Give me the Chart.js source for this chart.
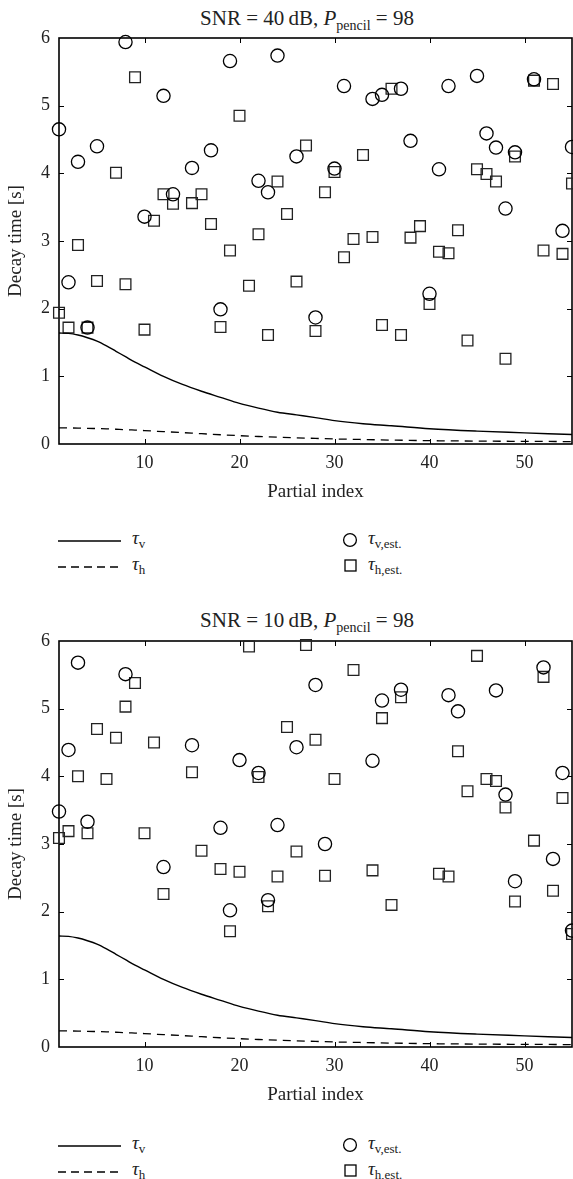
<!DOCTYPE html>
<html>
<head>
<meta charset="utf-8">
<script src="https://cdn.jsdelivr.net/npm/chart.js@4.4.1/dist/chart.umd.min.js"></script>
<style>
    body { margin: 0; width: 573px; height: 1179px; position: relative; background: #fff; overflow: hidden;
           font-family: "Liberation Serif", "DejaVu Serif", serif; color: #222; }
    .title { position: absolute; left: 107px; width: 400px; text-align: center; font-size: 21px; line-height: 22px; }
    .box { position: absolute; left: 0; width: 573px; height: 480px; }
    .leg { position: absolute; font-size: 19px; line-height: 20px; white-space: nowrap; }
    .leg sub { font-size: 13px; vertical-align: -4px; line-height: 0; }
    .leg i, .title i { font-style: italic; }
    svg { position: absolute; overflow: visible; }
</style>
</head>
<body>

<div class="title" style="top:7px">SNR = 40&thinsp;dB, <i>P</i><sub style="font-size:14px">pencil</sub> = 98</div>
<div class="box" style="top:28px"><canvas id="chart40"></canvas></div>

<div class="title" style="top:609px">SNR = 10&thinsp;dB, <i>P</i><sub style="font-size:14px">pencil</sub> = 98</div>
<div class="box" style="top:631px"><canvas id="chart10"></canvas></div>

<div id="legends"></div>

<script>
// partial index (x axis categories)
const partialIndex = [1, 2, 3, 4, 5, 6, 7, 8, 9, 10, 11, 12, 13, 14, 15, 16, 17, 18, 19, 20,
    21, 22, 23, 24, 25, 26, 27, 28, 29, 30, 31, 32, 33, 34, 35, 36, 37, 38, 39, 40,
    41, 42, 43, 44, 45, 46, 47, 48, 49, 50, 51, 52, 53, 54, 55];

// true decay times
const curveIndex = [1, 2, 3, 4, 5, 6, 7, 8, 9, 10, 12, 14, 16, 18, 20, 22, 24, 26, 28, 30,
    33, 36, 40, 45, 50, 55];
const tauV = [1.64, 1.635, 1.61, 1.57, 1.52, 1.45, 1.37, 1.29, 1.21, 1.14, 1.00, 0.88, 0.78, 0.69, 0.60,
    0.53, 0.47, 0.43, 0.39, 0.345, 0.30, 0.27, 0.225, 0.19, 0.165, 0.14];
const tauH = [0.238, 0.237, 0.235, 0.232, 0.228, 0.224, 0.218, 0.212, 0.205, 0.198, 0.183, 0.168, 0.152, 0.137, 0.123,
    0.111, 0.10, 0.091, 0.083, 0.075, 0.066, 0.058, 0.049, 0.043, 0.039, 0.036];

// estimates, SNR = 40 dB (null = not shown)
const tauVEst40 = [4.65, 2.39, 4.17, 1.72, 4.40, null, null, 5.94, null, 3.36,
    null, 5.145, 3.69, null, 4.08, null, 4.34, 1.99, 5.66, null,
    null, 3.89, 3.72, 5.74, null, 4.25, null, 1.87, null, 4.07,
    5.29, null, null, 5.10, 5.16, null, 5.25, 4.48, null, 2.22,
    4.06, 5.29, null, null, 5.44, 4.59, 4.38, 3.48, 4.31, null,
    5.39, null, null, 3.15, 4.39];
const tauHEst40 = [1.94, 1.72, 2.94, 1.72, 2.41, null, 4.01, 2.36, 5.42, 1.69,
    3.30, 3.69, 3.55, null, 3.56, 3.69, 3.25, 1.73, 2.86, 4.85,
    2.34, 3.10, 1.61, 3.88, 3.40, 2.40, 4.41, 1.67, 3.72, 4.02,
    2.76, 3.03, 4.27, 3.06, 1.76, 5.25, 1.61, 3.05, 3.22, 2.07,
    2.84, 2.82, 3.16, 1.53, 4.06, 3.99, 3.88, 1.26, 4.25, null,
    5.37, 2.86, 5.32, 2.81, 3.85];

// estimates, SNR = 10 dB
const tauVEst10 = [3.48, 4.39, 5.68, 3.33, null, null, null, 5.51, null, null,
    null, 2.66, null, null, 4.46, null, null, 3.24, 2.02, 4.24,
    null, 4.05, 2.17, 3.28, null, 4.43, null, 5.35, 3.00, null,
    null, null, null, 4.23, 5.12, null, 5.28, null, null, null,
    null, 5.20, 4.96, null, null, null, 5.27, 3.73, 2.45, null,
    null, 5.61, 2.78, 4.05, 1.72];
const tauHEst10 = [3.09, 3.19, 4.00, 3.16, 4.70, 3.96, 4.57, 5.03, 5.38, 3.16,
    4.50, 2.26, null, null, 4.06, 2.90, null, 2.63, 1.71, 2.59,
    5.92, 3.99, 2.08, 2.52, 4.73, 2.89, 5.94, 4.54, 2.53, 3.96,
    null, 5.57, null, 2.61, 4.86, 2.10, 5.17, null, null, null,
    2.56, 2.52, 4.37, 3.78, 5.78, 3.96, 3.93, 3.54, 2.15, null,
    3.05, 5.47, 2.31, 3.68, 1.67];

const xTicks = [10, 20, 30, 40, 50];
const yTicks = [0, 1, 2, 3, 4, 5, 6];

const fontFamily = '"Liberation Serif", "DejaVu Serif", serif';

function pts(xs, ys) {
    return xs.map((x, i) => ({ x: x, y: ys[i] })).filter(p => p.y !== null);
}

// box round the plot and inward tick marks
const frameTicks = {
    id: 'frameTicks',
    beforeDatasetsDraw(chart) {
        const { ctx, chartArea: a, scales: { x, y } } = chart;
        ctx.save();
        ctx.strokeStyle = '#000';
        ctx.lineWidth = 1.6;
        ctx.strokeRect(a.left, a.top, a.right - a.left, a.bottom - a.top);
        ctx.lineWidth = 1;
        ctx.beginPath();
        xTicks.forEach(v => {
            const px = Math.round(x.getPixelForValue(v)) + 0.5;
            ctx.moveTo(px, a.bottom); ctx.lineTo(px, a.bottom - 5);
            ctx.moveTo(px, a.top); ctx.lineTo(px, a.top + 5);
        });
        yTicks.slice(1, -1).forEach(v => {
            const py = Math.round(y.getPixelForValue(v)) + 0.5;
            ctx.moveTo(a.left, py); ctx.lineTo(a.left + 5, py);
            ctx.moveTo(a.right, py); ctx.lineTo(a.right - 5, py);
        });
        ctx.stroke();
        ctx.restore();
    }
};

function makeChart(id, circles, squares) {
    const ctx = document.getElementById(id).getContext('2d');
    return new Chart(ctx, {
        type: 'scatter',
        data: {
            datasets: [
                {
                    label: 'tau_v',
                    data: pts(curveIndex, tauV),
                    showLine: true,
                    cubicInterpolationMode: 'monotone',
                    borderColor: '#000',
                    borderWidth: 1.4,
                    pointRadius: 0
                },
                {
                    label: 'tau_h',
                    data: pts(curveIndex, tauH),
                    showLine: true,
                    cubicInterpolationMode: 'monotone',
                    borderColor: '#000',
                    borderWidth: 1.3,
                    borderDash: [8, 6],
                    pointRadius: 0
                },
                {
                    label: 'tau_v,est.',
                    data: pts(partialIndex, circles),
                    pointStyle: 'circle',
                    pointRadius: 6.6,
                    pointBorderWidth: 1.3,
                    borderColor: '#000',
                    backgroundColor: 'rgba(0,0,0,0)',
                    clip: false
                },
                {
                    label: 'tau_h,est.',
                    data: pts(partialIndex, squares),
                    pointStyle: 'rect',
                    pointRadius: 7.6,
                    pointBorderWidth: 1.3,
                    borderColor: '#222',
                    backgroundColor: 'rgba(0,0,0,0)',
                    clip: false
                }
            ]
        },
        options: {
            responsive: true,
            maintainAspectRatio: false,
            animation: false,
            layout: { autoPadding: false, padding: { top: 10, right: 1, left: 0, bottom: 0 } },
            plugins: { legend: { display: false }, tooltip: { enabled: false } },
            scales: {
                x: {
                    type: 'linear',
                    min: 1,
                    max: 55,
                    afterBuildTicks: s => { s.ticks = xTicks.map(v => ({ value: v })); },
                    afterFit: s => { s.height = 64; s.paddingLeft = 0; s.paddingRight = 0; },
                    grid: { display: false, drawTicks: false },
                    border: { display: false },
                    ticks: { color: '#222', padding: 8, font: { family: fontFamily, size: 18 } },
                    title: {
                        display: true, text: 'Partial index', color: '#222',
                        font: { family: fontFamily, size: 19 }, padding: { top: 0, bottom: 5 }
                    }
                },
                y: {
                    min: 0,
                    max: 6,
                    afterBuildTicks: s => { s.ticks = yTicks.map(v => ({ value: v })); },
                    afterFit: s => { s.width = 59; s.paddingTop = 0; s.paddingBottom = 0; },
                    grid: { display: false, drawTicks: false },
                    border: { display: false },
                    ticks: { color: '#222', padding: 9, font: { family: fontFamily, size: 18 } },
                    title: {
                        display: true, text: 'Decay time [s]', color: '#222',
                        font: { family: fontFamily, size: 19 }, padding: { top: 5, bottom: 0 }
                    }
                }
            }
        },
        plugins: [frameTicks]
    });
}

makeChart('chart40', tauVEst40, tauHEst40);
makeChart('chart10', tauVEst10, tauHEst10);

// legends below each plot
function legendHtml(top) {
    const r1 = top, r2 = top + 26;
    return '' +
        '<svg style="left:58px;top:' + r1 + 'px" width="63" height="2"><line x1="0" y1="1" x2="63" y2="1" stroke="#000" stroke-width="1.4"/></svg>' +
        '<svg style="left:58px;top:' + r2 + 'px" width="63" height="2"><line x1="0" y1="1" x2="63" y2="1" stroke="#000" stroke-width="1.3" stroke-dasharray="8,5"/></svg>' +
        '<div class="leg" style="left:132px;top:' + (r1 - 12) + 'px"><i>&tau;</i><sub>v</sub></div>' +
        '<div class="leg" style="left:132px;top:' + (r2 - 12) + 'px"><i>&tau;</i><sub>h</sub></div>' +
        '<svg style="left:343px;top:' + (r1 - 7) + 'px" width="14" height="14"><circle cx="7" cy="7" r="6.4" fill="none" stroke="#000" stroke-width="1.3"/></svg>' +
        '<svg style="left:345px;top:' + (r2 - 6) + 'px" width="11" height="11"><rect x="0" y="0" width="11" height="11" fill="none" stroke="#000" stroke-width="1.3"/></svg>' +
        '<div class="leg" style="left:368px;top:' + (r1 - 12) + 'px"><i>&tau;</i><sub>v,est.</sub></div>' +
        '<div class="leg" style="left:368px;top:' + (r2 - 12) + 'px"><i>&tau;</i><sub>h,est.</sub></div>';
}
document.getElementById('legends').innerHTML = legendHtml(540) + legendHtml(1145);
</script>
</body>
</html>
